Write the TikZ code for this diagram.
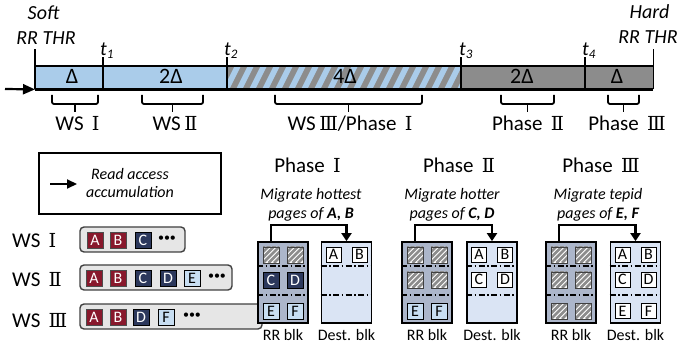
\documentclass[tikz,border=0pt]{standalone}
\usepackage{fontspec}
\setmainfont{Carlito}
\newfontfamily\numfont[Scale=0.92]{DejaVu Serif}
\usetikzlibrary{arrows.meta}
\definecolor{barblue}{RGB}{170,204,234}
\definecolor{bargray}{RGB}{140,140,140}
\definecolor{wsred}{RGB}{136,24,44}
\definecolor{wsnavy}{RGB}{44,56,92}
\definecolor{wslight}{RGB}{200,222,242}
\definecolor{rrfill}{RGB}{172,182,202}
\definecolor{destfill}{RGB}{218,228,244}
\definecolor{rowgray}{RGB}{230,230,230}
\definecolor{hatchgray}{RGB}{140,140,140}
\newcommand{\rI}{{\numfont Ⅰ}}
\newcommand{\rII}{{\numfont Ⅱ}}
\newcommand{\rIII}{{\numfont Ⅲ}}
\newcommand{\tsub}[1]{\textit{t}\raisebox{-3pt}{\fontsize{13}{13}\selectfont\itshape #1}}
\begin{document}
\begin{tikzpicture}[x=1pt,y=-1pt,
  lbl/.style={inner sep=0pt, anchor=base},
  txtL/.style={lbl, font=\fontsize{21}{21}\selectfont},
  txtM/.style={lbl, font=\fontsize{16}{16}\selectfont},
  txtMi/.style={lbl, font=\fontsize{16}{16}\selectfont\itshape},
  thr/.style={lbl, font=\fontsize{20}{20}\selectfont\itshape},
  tlab/.style={inner sep=0pt, anchor=base west, font=\fontsize{20}{20}\selectfont},
  dlabel/.style={lbl, font=\fontsize{22}{22}\selectfont},
  tseg/.style={minimum height=23pt, inner sep=0pt, anchor=north west},
  hatchbar/.style={tseg, fill=bargray, path picture={
      \foreach \k in {0,...,20}{
        \draw[barblue, line width=5.5pt]
          ([xshift=\k*13pt-14pt]path picture bounding box.south west) -- ++(13,-26);}}},
  tmark/.style={line width=1.8pt},
  bracket/.style={line width=1.8pt, rounded corners=2pt},
  sq/.style={draw, minimum size=16pt, inner sep=0pt, line width=0.9pt,
    font=\fontsize{16}{16}\selectfont},
  sqred/.style={sq, fill=wsred, draw=black!70, text=white},
  sqnavy/.style={sq, fill=wsnavy, draw=black, text=white},
  sqlight/.style={sq, fill=wslight, draw=black},
  sqwhite/.style={sq, fill=white, draw=black, minimum size=15pt},
  sqhatch/.style={sq, fill=white, draw=black!75, path picture={
      \foreach \k in {-4,...,3}{
        \draw[hatchgray, line width=2.6pt]
          ([xshift=\k*5.5pt]path picture bounding box.south west) -- ++(24,-24);}}},
  ellip/.style={inner sep=0pt, font=\fontsize{12}{12}\selectfont},
  rowbox/.style={draw=black!75, fill=rowgray, rounded corners=4pt, line width=1.4pt,
    minimum height=25pt, inner sep=0pt},
  blk/.style={draw, line width=1.8pt, minimum width=50pt, minimum height=81pt, inner sep=0pt},
  rrblk/.style={blk, fill=rrfill},
  destblk/.style={blk, fill=destfill},
  rowsep/.style={line width=1.3pt, dash pattern=on 6pt off 2.5pt on 1.5pt off 2.5pt},
  migr/.style={line width=2.4pt, -{Triangle[length=8pt,width=10pt]}},
]
\useasboundingbox (0,0) rectangle (681,350);

% ---------- timeline ----------
\node[tseg, fill=barblue, minimum width=68pt]  (seg1) at (35,66) {};
\node[tseg, fill=barblue, minimum width=124pt] (seg2) at (103,66) {};
\node[hatchbar, minimum width=234pt]           (seg3) at (227,66) {};
\node[tseg, fill=bargray, minimum width=124pt] (seg4) at (461,66) {};
\node[tseg, fill=bargray, minimum width=68pt]  (seg5) at (585,66) {};

\draw[line width=1.8pt] (seg1.north west) -- (seg5.north east);
\draw[line width=2.8pt] (seg1.south west) -- (seg5.south east);
\draw[tmark] (seg1.south west) -- ++(0,-40);
\draw[tmark] (seg5.south east) -- ++(0,-40);
\draw[tmark] (seg2.south west) -- ++(0,-32);
\draw[tmark] (seg3.south west) -- ++(0,-32);
\draw[tmark] (seg4.south west) -- ++(0,-32);
\draw[tmark] (seg5.south west) -- ++(0,-32);

\coordinate (flowin) at (5,89);
\draw[line width=2.2pt, -{Triangle[length=12pt,width=10pt]}] (flowin) -- (seg1.south west);

\node[dlabel] (d1) at (72,84) {Δ};
\node[dlabel] (d2) at (171,84) {2Δ};
\node[dlabel] (d3) at (345,84) {4Δ};
\node[dlabel] (d4) at (522,84) {2Δ};
\node[dlabel] (d5) at (617,84) {Δ};

\node[thr] (soft) at (43.5,20) {Soft};
\node[thr] (softthr) at (46,45) {RR THR};
\node[thr] (hard) at (649.5,19) {Hard};
\node[thr] (hardthr) at (648,44) {RR THR};

\node[tlab] (t1) at (100,56) {\tsub{1}};
\node[tlab] (t2) at (224,56) {\tsub{2}};
\node[tlab] (t3) at (459,56) {\tsub{3}};
\node[tlab] (t4) at (582,56) {\tsub{4}};

% brackets under the timeline
\draw[bracket] (52,95) -- (52,104) -- (98,104) -- (98,95);
\draw[tmark] (75,104) -- (75,112);
\draw[bracket] (142,95) -- (142,104) -- (203,104) -- (203,95);
\draw[tmark] (172.5,104) -- (172.5,112);
\draw[bracket] (275,95) -- (275,104) -- (422,104) -- (422,95);
\draw[tmark] (348.5,104) -- (348.5,112);
\draw[bracket] (501,95) -- (501,104) -- (554,104) -- (554,95);
\draw[tmark] (527.5,104) -- (527.5,112);
\draw[bracket] (608,95) -- (608,104) -- (639,104) -- (639,95);
\draw[tmark] (623.5,104) -- (623.5,112);

\node[txtL] (b1) at (77.5,131) {WS\,~\rI};
\node[txtL] (b2) at (175,131) {WS\,\rII};
\node[txtL] (b3) at (350,131) {WS\,\rIII/Phase\,~\rI};
\node[txtL] (b4) at (528,131) {Phase\,~\rII};
\node[txtL] (b5) at (627,131) {Phase\,~\rIII};

% ---------- legend ----------
\node[draw, line width=1.8pt, minimum width=182pt, minimum height=61pt, inner sep=0pt]
  (legend) at (130,183.5) {};
\coordinate (la1) at (50,184);
\coordinate (la2) at (77,184);
\draw[line width=2.2pt, -{Triangle[length=10pt,width=9pt]}] (la1) -- (la2);
\node[txtMi] (lg1) at (130,180) {Read access};
\node[txtMi] (lg2) at (130,198) {accumulation};

% ---------- working sets ----------
\node[txtL, anchor=base west] (ws1) at (12,248) {WS\,~\rI};
\node[txtL, anchor=base west] (ws2) at (12,287) {WS\,~\rII};
\node[txtL, anchor=base west] (ws3) at (12,327) {WS\,~\rIII};

\node[rowbox, minimum width=105pt] (row1) at (132.5,239.5) {};
\node[rowbox, minimum width=152pt] (row2) at (156,277.5) {};
\node[rowbox, minimum width=182pt] (row3) at (171,316.5) {};

\node[sqred]  (r1a) at (95,240) {A};
\node[sqred]  (r1b) at (118,240) {B};
\node[sqnavy] (r1c) at (143,240) {C};
\node[ellip]  (r1x) at (167,239) {•••};

\node[sqred]   (r2a) at (94,278) {A};
\node[sqred]   (r2b) at (118,278) {B};
\node[sqnavy]  (r2c) at (143,278) {C};
\node[sqnavy]  (r2d) at (168,278) {D};
\node[sqlight] (r2e) at (192,278) {E};
\node[ellip]   (r2x) at (217,277) {•••};

\node[sqred]   (r3a) at (94,317) {A};
\node[sqred]   (r3b) at (118,317) {B};
\node[sqnavy]  (r3d) at (141,317) {D};
\node[sqlight] (r3f) at (166,317) {F};
\node[ellip]   (r3x) at (192,316) {•••};

% ---------- phases ----------
\node[txtL] (ph1) at (307.5,173) {Phase\,~\rI};
\node[txtL] (ph2) at (459,173) {Phase\,~\rII};
\node[txtL] (ph3) at (601,173) {Phase\,~\rIII};

\node[txtMi] (m1a) at (311,200) {Migrate hottest};
\node[txtMi] (m1b) at (311,219) {pages of \textbf{A, B}};
\node[txtMi] (m2a) at (452,200) {Migrate hotter};
\node[txtMi] (m2b) at (452,219) {pages of \textbf{C, D}};
\node[txtMi] (m3a) at (598,200) {Migrate tepid};
\node[txtMi] (m3b) at (598,219) {pages of \textbf{E, F}};

% blocks
\node[rrblk]   (rr1) at (283,282.5) {};
\node[destblk] (de1) at (346.5,282.5) {};
\node[rrblk]   (rr2) at (427,282.5) {};
\node[destblk] (de2) at (492,282.5) {};
\node[rrblk]   (rr3) at (571,282.5) {};
\node[destblk] (de3) at (635.5,282.5) {};

\foreach \b in {rr1,de1,rr2,de2,rr3,de3}{
  \draw[rowsep] (\b.west |- 0,266) -- (\b.east |- 0,266);
  \draw[rowsep] (\b.west |- 0,295) -- (\b.east |- 0,295);
}

% phase I contents
\node[sqhatch] (p1h1) at (271,255) {};
\node[sqhatch] (p1h2) at (295,255) {};
\node[sqnavy]  (p1c)  at (271,280) {C};
\node[sqnavy]  (p1d)  at (295,280) {D};
\node[sqlight] (p1e)  at (271,311) {E};
\node[sqlight] (p1f)  at (295,311) {F};
\node[sqwhite] (q1a)  at (333.5,254.5) {A};
\node[sqwhite] (q1b)  at (359.5,254.5) {B};

% phase II contents
\node[sqhatch] (p2h1) at (415,255) {};
\node[sqhatch] (p2h2) at (439,255) {};
\node[sqhatch] (p2h3) at (415,280) {};
\node[sqhatch] (p2h4) at (439,280) {};
\node[sqlight] (p2e)  at (415,311) {E};
\node[sqlight] (p2f)  at (439,311) {F};
\node[sqwhite] (q2a)  at (479,254.5) {A};
\node[sqwhite] (q2b)  at (505,254.5) {B};
\node[sqwhite] (q2c)  at (479,279.5) {C};
\node[sqwhite] (q2d)  at (505,279.5) {D};

% phase III contents
\node[sqhatch] (p3h1) at (559,255) {};
\node[sqhatch] (p3h2) at (583,255) {};
\node[sqhatch] (p3h3) at (559,280) {};
\node[sqhatch] (p3h4) at (583,280) {};
\node[sqhatch] (p3h5) at (559,311) {};
\node[sqhatch] (p3h6) at (583,311) {};
\node[sqwhite] (q3a)  at (622.5,254.5) {A};
\node[sqwhite] (q3b)  at (648.5,254.5) {B};
\node[sqwhite] (q3c)  at (622.5,279.5) {C};
\node[sqwhite] (q3d)  at (648.5,279.5) {D};
\node[sqwhite] (q3e)  at (622.5,311) {E};
\node[sqwhite] (q3f)  at (648.5,311) {F};

% migration arrows
\draw[migr] ([xshift=-12pt]rr1.north) -- ++(0,-16) -| (de1.north);
\draw[migr] ([xshift=-12pt]rr2.north) -- ++(0,-16) -| (de2.north);
\draw[migr] ([xshift=-12pt]rr3.north) -- ++(0,-16) -| (de3.north);

% block captions
\node[txtM] (c1) at (283,340) {RR blk};
\node[txtM] (c2) at (346.5,340) {Dest. blk};
\node[txtM] (c3) at (427,340) {RR blk};
\node[txtM] (c4) at (492,340) {Dest. blk};
\node[txtM] (c5) at (571,340) {RR blk};
\node[txtM] (c6) at (635.5,340) {Dest. blk};
\end{tikzpicture}
\end{document}
